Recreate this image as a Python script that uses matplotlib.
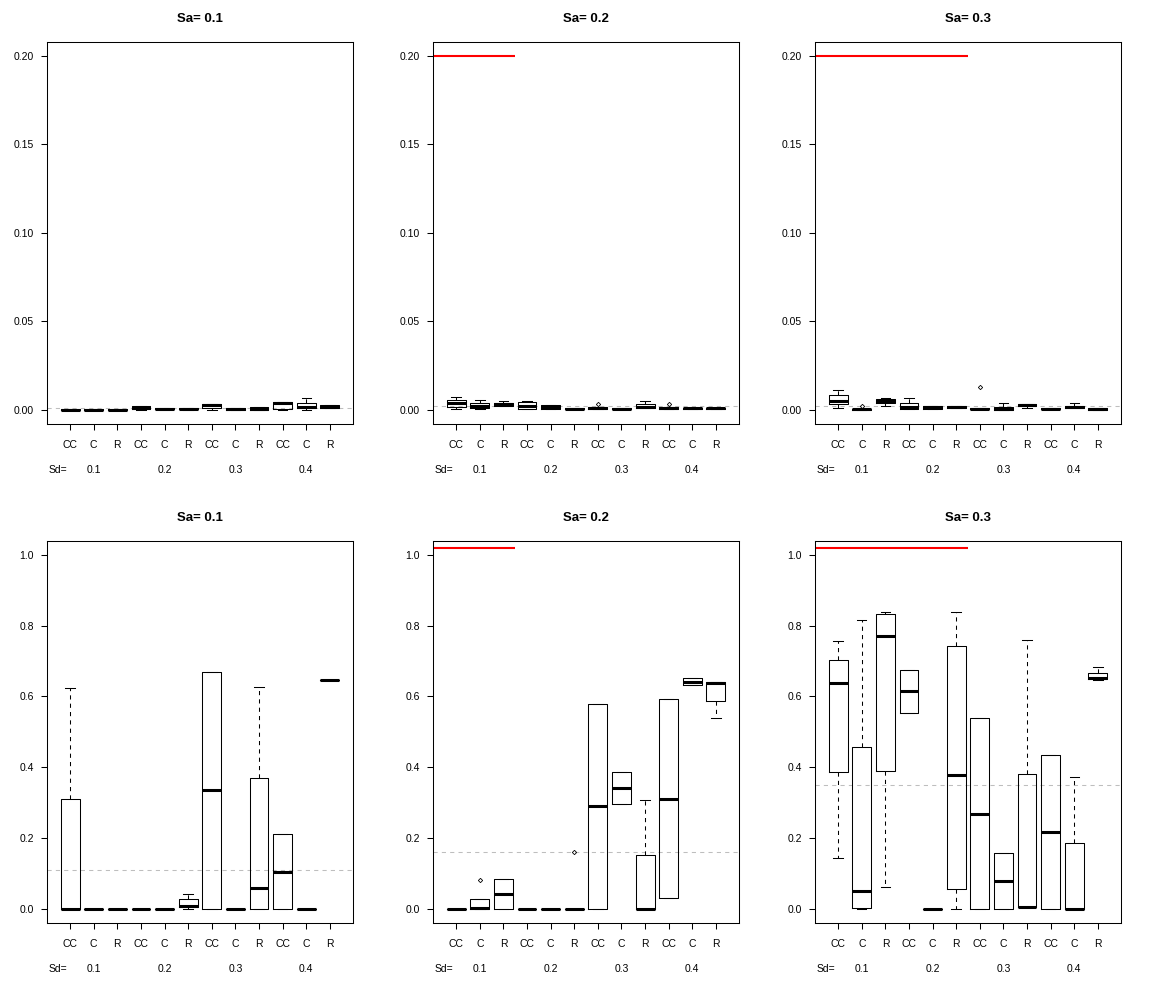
# Boxplots of estimation error by Sa / Sd / method
import matplotlib.pyplot as plt
from matplotlib.transforms import blended_transform_factory

plt.rcParams["font.family"] = ["Liberation Sans", "DejaVu Sans"]

methods = ["CC", "C", "R"] * 4
sd_levels = ["0.1", "0.2", "0.3", "0.4"]
sa_levels = ["0.1", "0.2", "0.3"]

# (whisker low, q1, median, q3, whisker high) per box
top_sa1 = [
    (0, 0, 0.0001, 0.0005, 0.0005), (0, 0, 0.0001, 0.0004, 0.0004),
    (0, 0, 0.0001, 0.0004, 0.0004), (0, 0.0002, 0.0009, 0.0023, 0.0023),
    (0, 0.0002, 0.0005, 0.0009, 0.0009), (0, 0.0002, 0.0005, 0.0009, 0.0009),
    (0, 0.0012, 0.0026, 0.0034, 0.0034), (0, 0.0001, 0.0004, 0.0008, 0.0008),
    (0, 0, 0.0003, 0.0017, 0.0017), (0, 0.0002, 0.0036, 0.0043, 0.0045),
    (0, 0.0008, 0.0015, 0.0040, 0.0064), (0.0008, 0.0008, 0.0017, 0.0026, 0.0026),
]
top_sa2 = [
    (0.0004, 0.0015, 0.0036, 0.0058, 0.0070), (0.0004, 0.0011, 0.0021, 0.0041, 0.0053),
    (0.0019, 0.0019, 0.0032, 0.0038, 0.0047), (0.0002, 0.0002, 0.0019, 0.0045, 0.0047),
    (0.0002, 0.0002, 0.0015, 0.0026, 0.0026), (0.0002, 0.0002, 0.0005, 0.0009, 0.0009),
    (0.0004, 0.0004, 0.0008, 0.0013, 0.0013), (0.0002, 0.0002, 0.0005, 0.0009, 0.0009),
    (0.0008, 0.0008, 0.0015, 0.0032, 0.0047), (0.0004, 0.0004, 0.0008, 0.0013, 0.0013),
    (0.0002, 0.0002, 0.0008, 0.0012, 0.0012), (0.0002, 0.0002, 0.0008, 0.0012, 0.0012),
]
top_sa3 = [
    (0.0008, 0.0030, 0.0049, 0.0081, 0.0109), (0, 0, 0.0002, 0.0004, 0.0004),
    (0.0019, 0.0036, 0.0047, 0.0062, 0.0064), (0.0002, 0.0002, 0.0013, 0.0041, 0.0064),
    (0.0002, 0.0002, 0.0013, 0.0024, 0.0024), (0.0009, 0.0009, 0.0015, 0.0024, 0.0024),
    (0.0002, 0.0002, 0.0005, 0.0009, 0.0009), (0, 0, 0.0006, 0.0015, 0.0038),
    (0.0008, 0.0023, 0.0026, 0.0030, 0.0030), (0.0002, 0.0002, 0.0006, 0.0011, 0.0011),
    (0.0008, 0.0008, 0.0015, 0.0024, 0.0038), (0, 0, 0.0004, 0.0009, 0.0009),
]
bottom_sa1 = [
    (0, 0, 0, 0.310, 0.623), (0, 0, 0, 0, 0), (0, 0, 0, 0, 0), (0, 0, 0, 0, 0),
    (0, 0, 0, 0, 0), (0, 0.004, 0.009, 0.027, 0.041), (0, 0, 0.335, 0.669, 0.669),
    (0, 0, 0, 0, 0), (0, 0, 0.058, 0.369, 0.627), (0, 0, 0.105, 0.211, 0.211),
    (0, 0, 0, 0, 0), (0.646, 0.646, 0.646, 0.646, 0.646),
]
bottom_sa2 = [
    (0, 0, 0, 0, 0), (0, 0, 0.002, 0.027, 0.027), (0, 0, 0.041, 0.084, 0.084),
    (0, 0, 0, 0, 0), (0, 0, 0, 0, 0), (0, 0, 0, 0, 0), (0, 0, 0.290, 0.578, 0.578),
    (0.296, 0.296, 0.341, 0.386, 0.386), (0, 0, 0, 0.152, 0.307),
    (0.030, 0.030, 0.311, 0.592, 0.592), (0.632, 0.632, 0.640, 0.652, 0.652),
    (0.539, 0.586, 0.637, 0.640, 0.642),
]
bottom_sa3 = [
    (0.143, 0.386, 0.637, 0.702, 0.756), (0, 0.002, 0.050, 0.457, 0.815),
    (0.061, 0.389, 0.770, 0.832, 0.838), (0.554, 0.554, 0.615, 0.674, 0.674),
    (0, 0, 0, 0, 0), (0, 0.056, 0.378, 0.742, 0.838), (0, 0, 0.267, 0.539, 0.539),
    (0, 0, 0.078, 0.157, 0.157), (0.004, 0.004, 0.004, 0.380, 0.760),
    (0, 0, 0.217, 0.434, 0.434), (0, 0, 0, 0.185, 0.372),
    (0.647, 0.649, 0.652, 0.666, 0.684),
]

# outliers: box position -> values
top_fliers = [{}, {7: [0.0034], 10: [0.0034]}, {2: [0.0024], 7: [0.0126]}]
bottom_fliers = [{}, {2: [0.081], 6: [0.160]}, {}]

# grey dashed reference level and red segment end per panel
top_ref = [0.001, 0.002, 0.002]
bottom_ref = [0.109, 0.160, 0.349]
red_end = [None, 3.5, 6.5]

rows = [
    dict(data=[top_sa1, top_sa2, top_sa3], fliers=top_fliers, ref=top_ref,
         ymax=0.20, red_y=0.20, yticks=[0, 0.05, 0.10, 0.15, 0.20], fmt="{:.2f}"),
    dict(data=[bottom_sa1, bottom_sa2, bottom_sa3], fliers=bottom_fliers, ref=bottom_ref,
         ymax=1.0, red_y=1.02, yticks=[0, 0.2, 0.4, 0.6, 0.8, 1.0], fmt="{:.1f}"),
]

fig = plt.figure(figsize=(11.6, 9.88), dpi=100)
lefts = [0.0405, 0.3733, 0.7026]
bottoms = [0.5709, 0.0658]
w, h = 0.2638, 0.3870

pos = list(range(1, 13))
for r, row in enumerate(rows):
    for c in range(3):
        ax = fig.add_axes([lefts[c], bottoms[r], w, h])
        stats = []
        for i, (lo, q1, med, q3, hi) in enumerate(row["data"][c]):
            stats.append(dict(whislo=lo, q1=q1, med=med, q3=q3, whishi=hi,
                              fliers=row["fliers"][c].get(i + 1, [])))
        ax.bxp(stats, positions=pos, widths=0.8, capwidths=0.4,
               boxprops=dict(color="black", linewidth=0.75),
               medianprops=dict(color="black", linewidth=2.2, solid_capstyle="butt"),
               whiskerprops=dict(color="black", linewidth=0.75, linestyle=(0, (4, 4))),
               capprops=dict(color="black", linewidth=0.75),
               flierprops=dict(marker="D", markersize=2.2, markerfacecolor="none",
                               markeredgecolor="black", markeredgewidth=0.6))

        ax.axhline(row["ref"][c], color="#BEBEBE", linewidth=0.75,
                   linestyle=(0, (4, 4)), zorder=1)
        if red_end[c] is not None:
            ax.plot([0, red_end[c]], [row["red_y"], row["red_y"]], color="red",
                    linewidth=1.5, solid_capstyle="butt")

        span = row["ymax"]
        ax.set_ylim(-0.04 * span, span * 1.04)
        ax.set_xlim(0.02, 12.98)
        ax.set_yticks(row["yticks"])
        ax.set_yticklabels([row["fmt"].format(v) for v in row["yticks"]])
        ax.set_xticks(pos)
        ax.set_xticklabels(methods)
        ax.tick_params(axis="both", labelsize=7.5, length=4.3, width=0.75,
                       direction="out")
        ax.tick_params(axis="x", pad=7.5)
        ax.tick_params(axis="y", pad=5)
        for s in ax.spines.values():
            s.set_linewidth(0.75)

        ax.set_title("Sa= " + sa_levels[c], fontsize=9.5, fontweight="bold", pad=14)

        trans = blended_transform_factory(ax.transData, ax.transAxes)
        ax.text(0.5, -0.12, "Sd=", transform=trans, ha="center", va="center",
                fontsize=7.5)
        for k, sd in enumerate(sd_levels):
            ax.text(2 + 3 * k, -0.12, sd, transform=trans, ha="center",
                    va="center", fontsize=7.5)

fig.savefig("out.png", dpi=100)
